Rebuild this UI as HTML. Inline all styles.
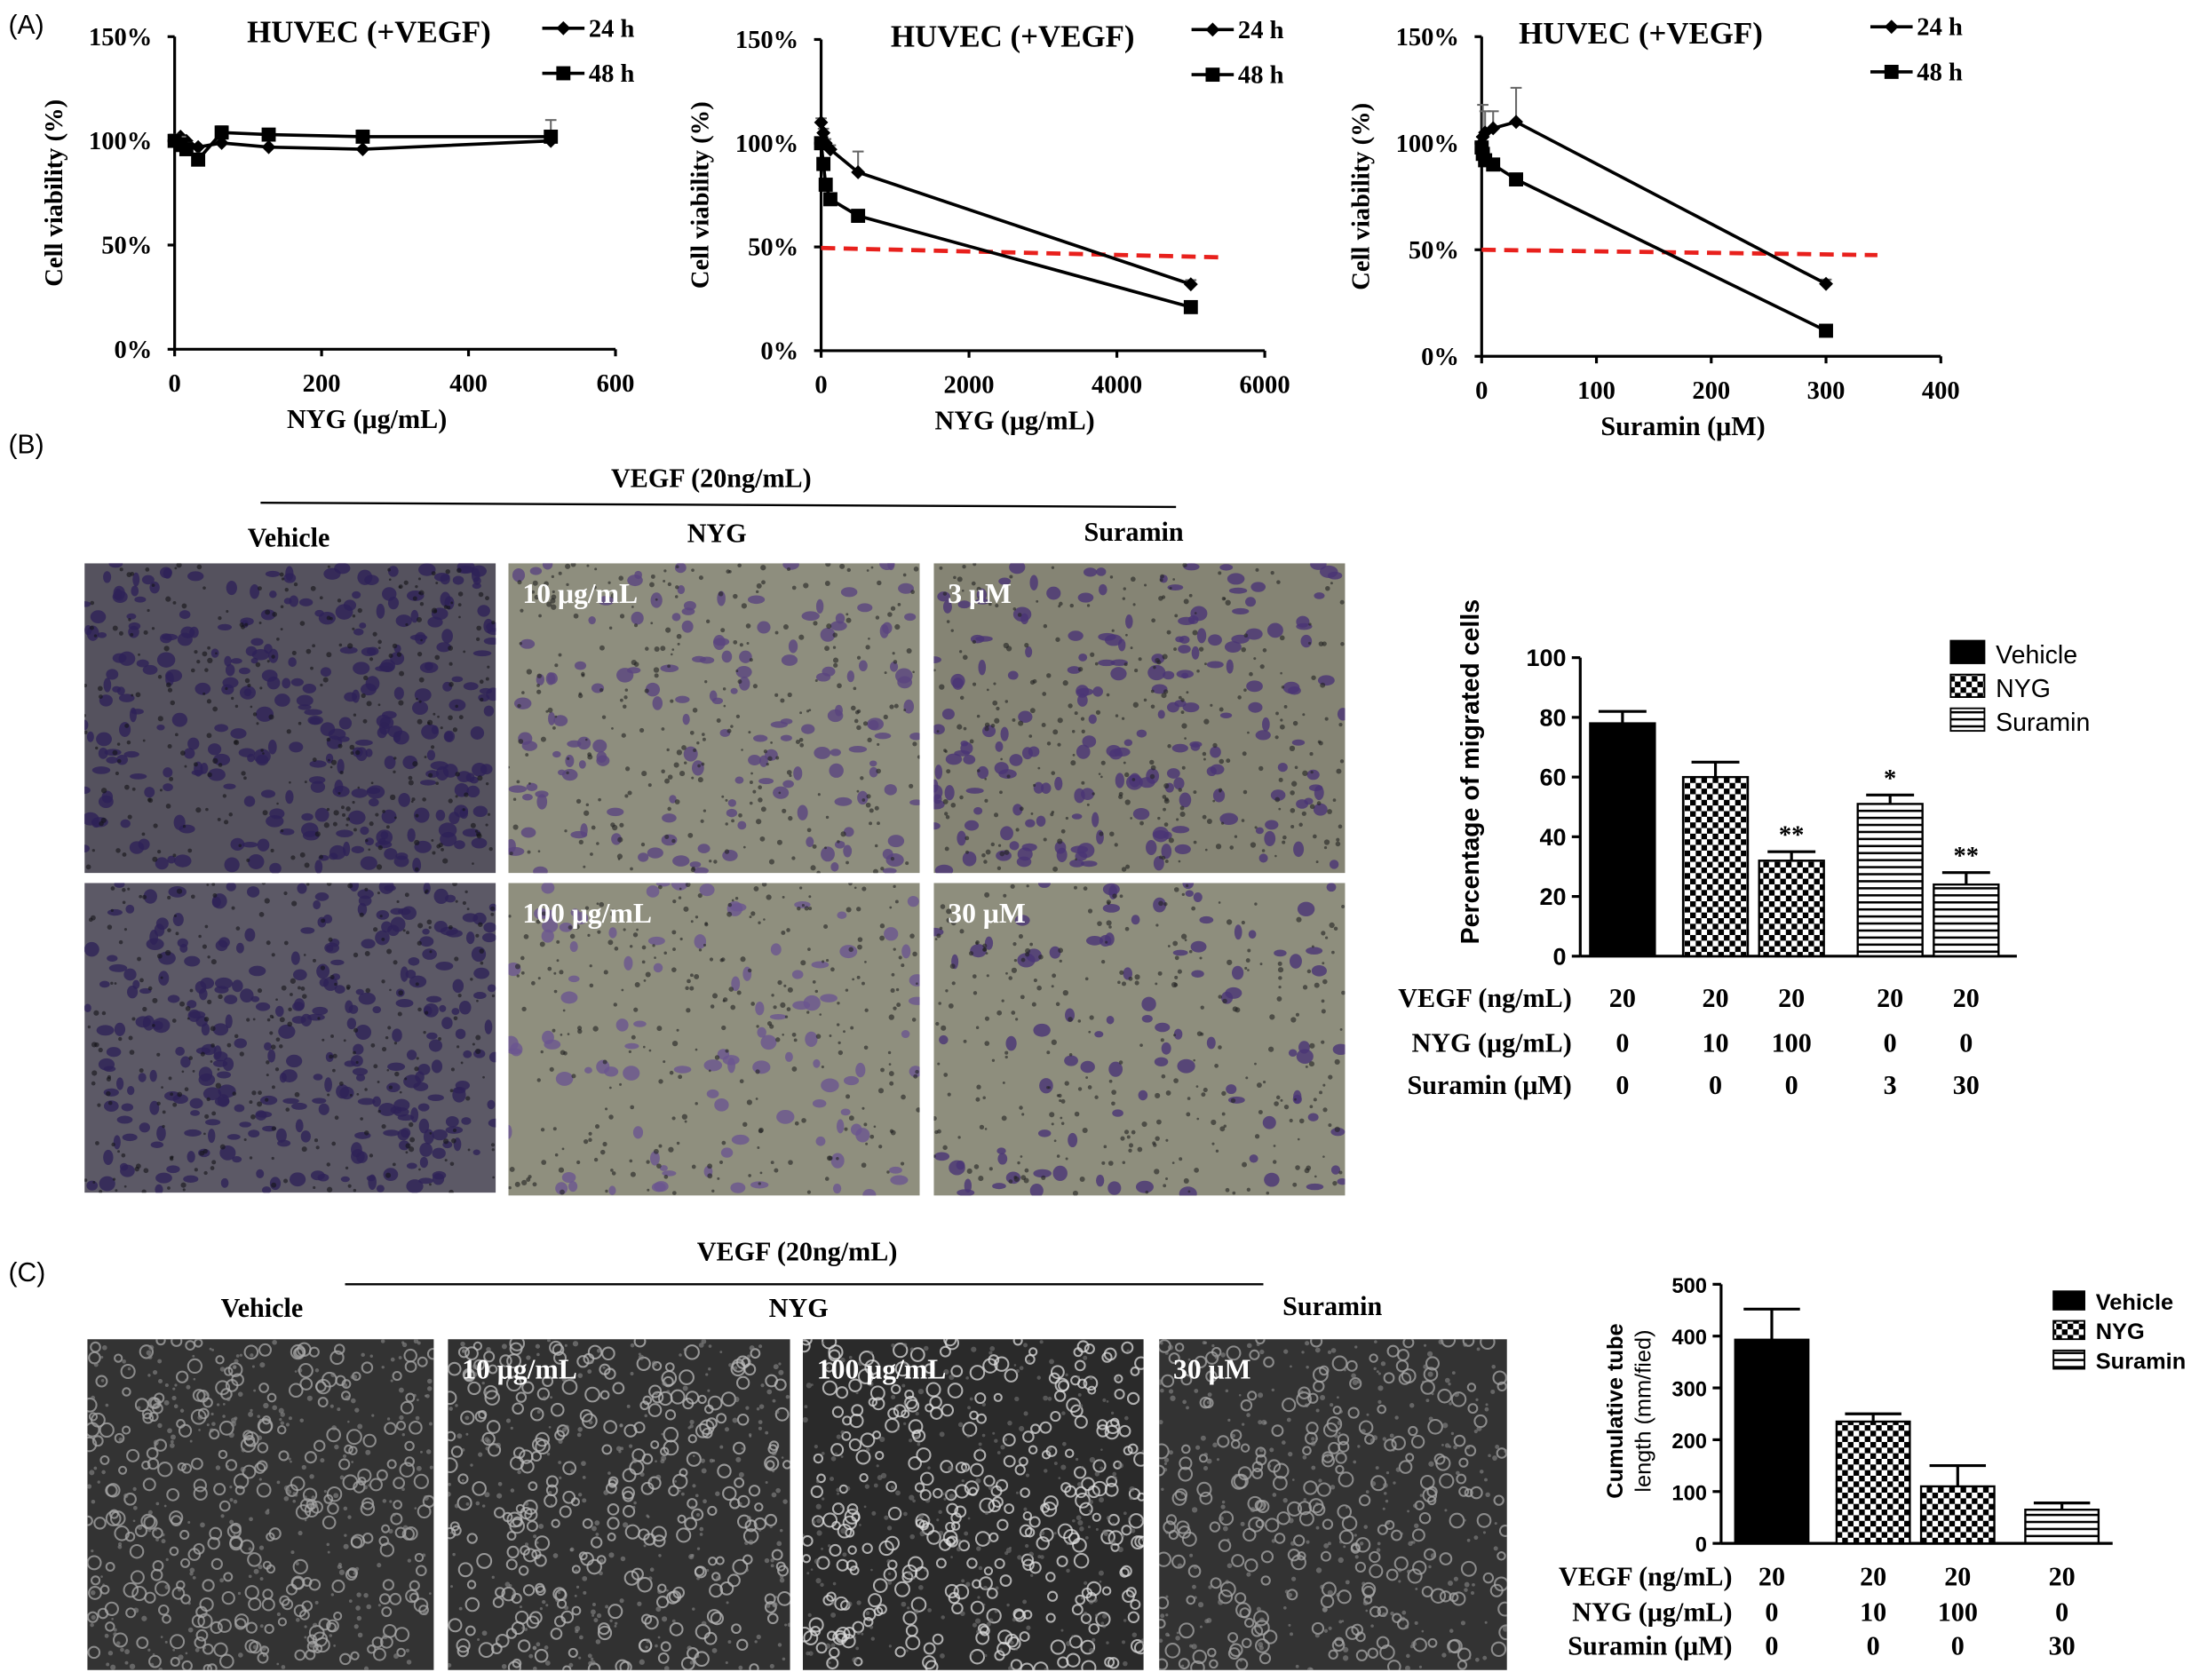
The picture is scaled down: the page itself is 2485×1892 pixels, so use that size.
<!DOCTYPE html>
<html><head><meta charset="utf-8"><style>
html,body{margin:0;padding:0;background:#fff}
svg{display:block}
.s{font-family:"Liberation Serif",serif;font-weight:bold}
.a{font-family:"Liberation Sans",sans-serif}
</style></head><body>
<svg id="root" xmlns="http://www.w3.org/2000/svg" width="2485" height="1892" viewBox="0 0 1567 1193">
<defs id="defs">
<pattern id="chk" width="8" height="8" patternUnits="userSpaceOnUse"><rect width="8" height="8" fill="#fff"/><rect width="4" height="4" fill="#000"/><rect x="4" y="4" width="4" height="4" fill="#000"/></pattern>
<pattern id="hln" width="6" height="5" patternUnits="userSpaceOnUse"><rect width="6" height="5" fill="#fff"/><rect y="0" width="6" height="1.6" fill="#000"/></pattern>
</defs>
<g id="g"></g>
</svg>
<script>
// ---- Panel A data ----
const a1X=[0,8,16,32,64,128,256,512];
const a1_24=[100,102,100,97,99,97,96,100];
const a1_48=[100,98,96,91,104,103,102,102];
const a1Err48=[3,4,3,3,3,2,3,8];
const a2X=[0,31,62,125,500,5000];
const a2_24=[110,105,100,97,86,32];
const a2_48=[100,90,80,73,65,21];
const a2Err24=[2,2,2,2,10,2];
const a3X=[0,1,3,10,30,300];
const a3_24=[100,103,105,107,110,34];
const a3_48=[98,95,92,90,83,12];
const a3Err24=[3,15,10,8,16,2];
const yTicksA=[0,50,100,150];
// ---- Panel B data ----
const bCats=["Vehicle","NYG10","NYG100","Sur3","Sur30"];
const bVals=[78,60,32,51,24];
const bErr=[4,5,3,3,4];
const bStars=["","","**","*","**"];
const bTicks=[0,20,40,60,80,100];
const bVEGF=["20","20","20","20","20"],bNYG=["0","10","100","0","0"],bSur=["0","0","0","3","30"];
// ---- Panel C data ----
const cVals=[393,235,110,65];
const cErr=[59,15,40,13];
const cTicks=[0,100,200,300,400,500];
const cVEGF=["20","20","20","20"],cNYG=["0","10","100","0"],cSur=["0","0","0","30"];

const NS="http://www.w3.org/2000/svg";
const G=document.getElementById('g');
const D=document.getElementById('defs');
function el(tag,attrs,parent,txt){const e=document.createElementNS(NS,tag);for(const k in attrs)e.setAttribute(k,attrs[k]);if(txt!==undefined)e.textContent=txt;(parent||G).appendChild(e);return e;}
function txt(x,y,s,size,cls,anchor,name,parent,extra){const t=el('text',Object.assign({x:x,y:y,'font-size':size,class:cls,'text-anchor':anchor||'middle'},extra||{}),parent,s);

return t;}

txt(6,24,"(A)",19,"a","start","panel-a-label");
txt(6,322,"(B)",19,"a","start","panel-b-label");
txt(6,910,"(C)",19,"a","start","panel-c-label");

function lineChart(o){
 const g=el('g',{});
 
 
 const xs=v=>o.x0+v*o.xk, ys=v=>o.y0-v*o.yk;
 el('line',{x1:o.x0,y1:ys(150),x2:o.x0,y2:o.y0,stroke:'#000','stroke-width':2},g);
 el('line',{x1:o.x0,y1:o.y0,x2:xs(o.xmax),y2:o.y0,stroke:'#000','stroke-width':2},g);
 yTicksA.forEach(t=>{el('line',{x1:o.x0-5,y1:ys(t),x2:o.x0,y2:ys(t),stroke:'#000','stroke-width':2},g);
  txt(o.x0-16,ys(t)+6,t+"%",18,"s","end","y-tick",g);});
 o.xt.forEach(t=>{el('line',{x1:xs(t),y1:o.y0,x2:xs(t),y2:o.y0+5,stroke:'#000','stroke-width':2},g);
  txt(xs(t),o.y0+30,String(t),18,"s","middle","x-tick",g);});
 txt(xs(o.xmax)/2+o.x0/2-20,o.y0+56,o.xl,19,"s","middle","x-axis-title",g);
 txt(o.x0-80,(ys(150)+o.y0)/2,"Cell viability (%)",18,"s","middle","y-axis-title",g,{transform:`rotate(-90 ${o.x0-80} ${(ys(150)+o.y0)/2})`});
 txt(o.tx,o.ty,"HUVEC (+VEGF)",22,"s","middle","chart-title",g);
 if(o.red) el('line',{x1:o.x0,y1:ys(o.red[0]),x2:o.red[2],y2:ys(o.red[1]),stroke:'#e8201c','stroke-width':3,'stroke-dasharray':'10,6'},g);
 [[o.s24,o.e24,'d'],[o.s48,o.e48,'s']].forEach(([s,e,m],si)=>{
  let pts=o.X.map((x,i)=>xs(x)+","+ys(s[i])).join(" ");
  o.X.forEach((x,i)=>{if(e&&e[i]){el('line',{x1:xs(x),y1:ys(s[i]),x2:xs(x),y2:ys(s[i]+e[i]),stroke:'#666','stroke-width':1.3},g);el('line',{x1:xs(x)-4,y1:ys(s[i]+e[i]),x2:xs(x)+4,y2:ys(s[i]+e[i]),stroke:'#666','stroke-width':1.3},g);}});
  const pl=el('polyline',{points:pts,fill:'none',stroke:'#000','stroke-width':2.3},g);
  
  
  o.X.forEach((x,i)=>{const cx=xs(x),cy=ys(s[i]);
   if(m==='d')el('polygon',{points:`${cx},${cy-5} ${cx+5},${cy} ${cx},${cy+5} ${cx-5},${cy}`,fill:'#000'},g);
   else el('rect',{x:cx-5,y:cy-5,width:10,height:10,fill:'#000'},g);});
 });
 const lx=o.lx;
 el('line',{x1:lx,y1:o.ly,x2:lx+30,y2:o.ly,stroke:'#000','stroke-width':2.3},g);
 el('polygon',{points:`${lx+15},${o.ly-5} ${lx+20},${o.ly} ${lx+15},${o.ly+5} ${lx+10},${o.ly}`},g);
 txt(lx+33,o.ly+6,"24 h",18,"s","start","legend-24h",g,{'font-weight':'normal'});
 el('line',{x1:lx,y1:o.ly+32,x2:lx+30,y2:o.ly+32,stroke:'#000','stroke-width':2.3},g);
 el('rect',{x:lx+10,y:o.ly+27,width:10,height:10},g);
 txt(lx+33,o.ly+38,"48 h",18,"s","start","legend-48h",g,{'font-weight':'normal'});
}
lineChart({name:'viability-chart-nyg-low',x0:124,y0:248,xk:313/600,yk:222/150,xmax:600,xt:[0,200,400,600],xl:"NYG (μg/mL)",tx:262,ty:30,X:a1X,s24:a1_24,s48:a1_48,e48:a1Err48,lx:385,ly:20});
lineChart({name:'viability-chart-nyg-high',x0:583,y0:249,xk:315/6000,yk:221/150,xmax:6000,xt:[0,2000,4000,6000],xl:"NYG (μg/mL)",tx:719,ty:33,X:a2X,s24:a2_24,s48:a2_48,e24:a2Err24,lx:846,ly:21,red:[49.5,45,866]});
lineChart({name:'viability-chart-suramin',x0:1052,y0:253,xk:326/400,yk:227/150,xmax:400,xt:[0,100,200,300,400],xl:"Suramin (μM)",tx:1165,ty:31,X:a3X,s24:a3_24,s48:a3_48,e24:a3Err24,lx:1328,ly:19,red:[50,47.5,1333]});

// ---- headers ----
txt(505,346,"VEGF (20ng/mL)",19,"s","middle","vegf-header-b");
el('line',{x1:185,y1:357,x2:835,y2:360,stroke:'#000','stroke-width':1.5});
txt(205,388,"Vehicle",19,"s","middle","vehicle-header-b");
txt(509,385,"NYG",19,"s","middle","nyg-header-b");
txt(805,384,"Suramin",19,"s","middle","suramin-header-b");
txt(566,895,"VEGF (20ng/mL)",19,"s","middle","vegf-header-c");
el('line',{x1:245,y1:912,x2:897,y2:912,stroke:'#000','stroke-width':1.5});
txt(186,935,"Vehicle",19,"s","middle","vehicle-header-c");
txt(567,935,"NYG",19,"s","middle","nyg-header-c");
txt(946,934,"Suramin",19,"s","middle","suramin-header-c");

// ---- micrograph textures (deterministic) ----
let seed=7;function rnd(){seed=(seed*16807)%2147483647;return seed/2147483647;}
let clipN=0;
function micro(x,y,w,h,bg,dot,blobs,blob,label,name,type){
 const cid='cp'+(clipN++);
 const cp=el('clipPath',{id:cid},D);el('rect',{x:x,y:y,width:w,height:h},cp);
 const g=el('g',{'clip-path':`url(#${cid})`});
 
 
 el('rect',{x:x,y:y,width:w,height:h,fill:bg},g);
 for(let i=0;i<blobs;i++){const cx=x+rnd()*w,cy=y+rnd()*h;
  if(type==='b')el('ellipse',{cx:cx,cy:cy,rx:2.5+rnd()*4,ry:2+rnd()*3.5,fill:blob,opacity:0.8},g);
  else el('circle',{cx:cx,cy:cy,r:2.5+rnd()*2.5,fill:'none',stroke:blob,'stroke-width':1.3,opacity:0.75},g);}
 for(let i=0;i<300;i++){el('circle',{cx:x+rnd()*w,cy:y+rnd()*h,r:0.8+rnd()*1.2,fill:dot,opacity:0.6},g);}
 if(label)txt(x+10,y+28,label,20,"s","start","micrograph-label",g,{fill:'#fff'});
}
micro(60,400,292,220,'#55525e','#141418',300,'#2e2258',"","migration-vehicle-1",'b');
micro(361,400,292,220,'#8e8e7e','#222',150,'#5a4580',"10 μg/mL","migration-nyg-10",'b');
micro(663,400,292,220,'#858474','#222',190,'#4a3575',"3 μM","migration-suramin-3",'b');
micro(60,627,292,220,'#5c5966','#141418',290,'#2e2258',"","migration-vehicle-2",'b');
micro(361,627,292,222,'#8f8f7e','#222',100,'#6a5590',"100 μg/mL","migration-nyg-100",'b');
micro(663,627,292,222,'#8e8e7d','#222',90,'#4a3575',"30 μM","migration-suramin-30",'b');
micro(62,951,246,235,'#333','#888',300,'#aaa',"","tube-vehicle",'c');
micro(318,951,243,235,'#313131','#888',280,'#bbb',"10 μg/mL","tube-nyg-10",'c');
micro(570,951,242,235,'#2a2a2a','#777',320,'#ddd',"100 μg/mL","tube-nyg-100",'c');
micro(823,951,247,235,'#333','#888',250,'#aaa',"30 μM","tube-suramin-30",'c');

// ---- bar charts ----
const fills=['#000','url(#chk)','url(#chk)','url(#hln)','url(#hln)'];
function barChart(o){
 const g=el('g',{});
 
 
 const ys=v=>o.y0-v*o.yk;
 const top=o.ticks[o.ticks.length-1];
 el('line',{x1:o.x0,y1:ys(top),x2:o.x0,y2:o.y0,stroke:'#000','stroke-width':2},g);
 el('line',{x1:o.x0,y1:o.y0,x2:o.x1,y2:o.y0,stroke:'#000','stroke-width':2},g);
 o.ticks.forEach(t=>{el('line',{x1:o.x0-6,y1:ys(t),x2:o.x0,y2:ys(t),stroke:'#000','stroke-width':2},g);
  txt(o.x0-10,ys(t)+6,String(t),o.fs,"a","end","y-tick",g,{'font-weight':'bold'});});
 o.vals.forEach((v,i)=>{const cx=o.cx[i];
  el('line',{x1:cx,y1:ys(v),x2:cx,y2:ys(v+o.err[i]),stroke:'#000','stroke-width':2},g);
  el('line',{x1:cx-o.bw/2+6,y1:ys(v+o.err[i]),x2:cx+o.bw/2-6,y2:ys(v+o.err[i]),stroke:'#000','stroke-width':2},g);
  const r=el('rect',{x:cx-o.bw/2,y:ys(v),width:o.bw,height:v*o.yk,fill:o.fills[i],stroke:'#000','stroke-width':1.5},g);
  
  
  if(o.stars&&o.stars[i])txt(cx,ys(v+o.err[i])-6,o.stars[i],18,"s","middle","significance",g);
 });
 ["Vehicle","NYG","Suramin"].forEach((n,i)=>{
  el('rect',{x:o.lx,y:o.ly+i*o.lgap-7,width:o.lw,height:o.lh,fill:['#000','url(#chk)','url(#hln)'][i],stroke:'#000','stroke-width':1.2},g);
  txt(o.lx+o.lw+8,o.ly+i*o.lgap+o.lh-7,n,o.lfs,"a","start","legend-"+n.toLowerCase(),g,{'font-weight':o.lbold?'bold':'normal'});});
 o.rows.forEach((r,ri)=>{txt(o.rx,o.ry[ri],r[0],19,"s","end","row-label",g);
  r[1].forEach((v,i)=>txt(o.cx[i]+(o.off||0),o.ry[ri],v,19,"s","middle","row-value",g));});
 txt(o.ylx,o.yly,o.ylab[0],o.ylfs,"a","middle","y-axis-title",g,{'font-weight':'bold',transform:`rotate(-90 ${o.ylx} ${o.yly})`});
 if(o.ylab[1])txt(o.ylx+20,o.yly,o.ylab[1],o.ylfs,"a","middle","y-axis-title-2",g,{transform:`rotate(-90 ${o.ylx+20} ${o.yly})`});
}
barChart({name:'migration-bar-chart',x0:1122,y0:679,x1:1432,yk:212/100,ticks:bTicks,vals:bVals,err:bErr,cx:[1152,1218,1272,1342,1396],bw:46,fills:fills,stars:bStars,fs:17,
 lx:1385,ly:462,lw:24,lh:16,lgap:24,lfs:18,rows:[["VEGF (ng/mL)",bVEGF],["NYG (μg/mL)",bNYG],["Suramin  (μM)",bSur]],rx:1116,ry:[715,747,777],
 ylx:1050,yly:548,ylab:["Percentage of migrated cells"],ylfs:18});
barChart({name:'tube-length-bar-chart',x0:1222,y0:1096,x1:1500,yk:184/500,ticks:cTicks,vals:cVals,err:cErr,cx:[1258,1330,1390,1464],bw:52,fills:['#000','url(#chk)','url(#chk)','url(#hln)'],fs:15,
 lx:1458,ly:924,lw:22,lh:13,lgap:21,lfs:16,lbold:true,rows:[["VEGF (ng/mL)",cVEGF],["NYG (μg/mL)",cNYG],["Suramin  (μM)",cSur]],rx:1230,ry:[1126,1151,1175],off:0,
 ylx:1152,yly:1002,ylab:["Cumulative tube","length (mm/fied)"],ylfs:16});
</script>
</body></html>
